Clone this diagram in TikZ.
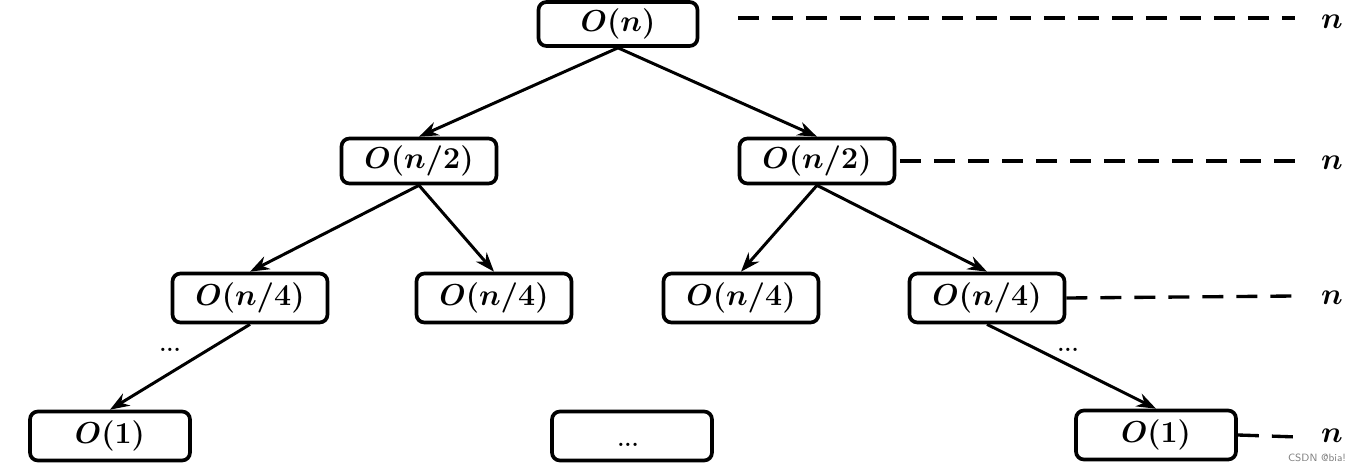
\documentclass[tikz,border=0pt]{standalone}
\usepackage{amsmath,bm}
\usetikzlibrary{arrows.meta}
\begin{document}
\begin{tikzpicture}[x=0.02cm,y=-0.02cm,
  box/.style={draw,line width=2.1pt,rounded corners=4.5pt,minimum width=3.1cm,minimum height=0.9cm,inner sep=0pt,font=\fontsize{17.5}{20}\selectfont\boldmath},
  arr/.style={line width=1.7pt,-{Stealth[length=11pt,width=8pt]}},
  dsh/.style={line width=1.9pt,dash pattern=on 0.42cm off 0.26cm},
  lvl/.style={font=\fontsize{19}{21}\selectfont\boldmath,inner sep=0pt},
  dots/.style={font=\fontsize{13}{14}\selectfont\bfseries,inner sep=0pt}]
\useasboundingbox (0,0) rectangle (1359,470);
\node[box,minimum width=3.18cm,minimum height=0.88cm] (r) at (618,24) {$O(n)$};
\node[box] (a) at (419,161) {$O(n/2)$};
\node[box] (b) at (817,161) {$O(n/2)$};
\node[box,minimum height=0.98cm] (c1) at (250,298) {$O(n/4)$};
\node[box,minimum height=0.98cm] (c2) at (494,298) {$O(n/4)$};
\node[box,minimum height=0.98cm] (c3) at (741,298) {$O(n/4)$};
\node[box,minimum height=0.98cm] (c4) at (987,298) {$O(n/4)$};
\node[box,minimum height=0.98cm,minimum width=3.2cm] (d1) at (110,436) {$O(1)$};
\node[box,minimum height=0.98cm,minimum width=3.2cm] (d2) at (632,436) {};
\node[box,minimum height=0.98cm,minimum width=3.2cm] (d3) at (1156,435) {$O(1)$};
\node[dots] (d2t) at (628,445) {...};
\node[dots] (e1) at (170,350) {...};
\node[dots] (e2) at (1068,350) {...};
\draw[arr] (r.south) -- (a.north);
\draw[arr] (r.south) -- (b.north);
\draw[arr] (a.south) -- (c1.north);
\draw[arr] (a.south) -- (c2.north);
\draw[arr] (b.south) -- (c3.north);
\draw[arr] (b.south) -- (c4.north);
\draw[arr] (c1.south) -- (d1.north);
\draw[arr] (c4.south) -- (d3.north);
\node[lvl] (n1) at (1332,22) {$n$};
\node[lvl] (n2) at (1332,163) {$n$};
\node[lvl] (n3) at (1332,298) {$n$};
\node[lvl] (n4) at (1332,436) {$n$};
\coordinate (s1) at (738,18);
\coordinate (t1) at (1295,18);
\coordinate (t2) at (1295,161);
\coordinate (t3) at (1295,296);
\coordinate (t4) at (1298,437);
\draw[dsh] (s1) -- (t1);
\draw[dsh] (b.east) ++(4,0) coordinate (s2) -- (t2);
\draw[dsh] (c4.east) -- (t3);
\draw[dsh] (d3.east) -- (t4);
\node[font=\fontsize{6}{7}\sffamily,text=gray,inner sep=0pt] (wm) at (1317,458) {CSDN @bia!};
\end{tikzpicture}
\end{document}
